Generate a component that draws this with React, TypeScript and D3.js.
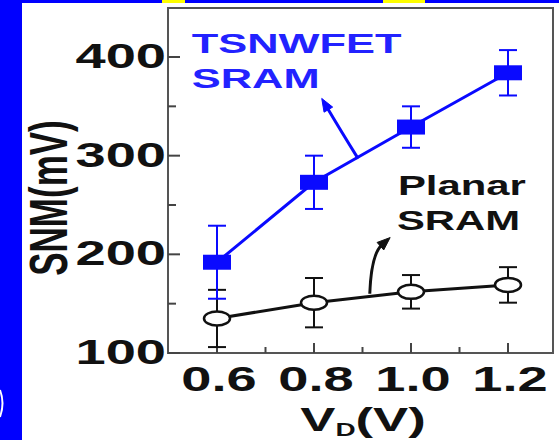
// SNM vs V_D — TSNWFET SRAM vs Planar SRAM
import React, { useEffect } from 'react';
import * as d3 from 'd3';

const voltages = [0.6, 0.8, 1.0, 1.2];
const tsnwfetSnm = [192, 273, 329, 384];
const tsnwfetErr = [37, 27, 21, 23];
const planarSnm = [135, 151, 162, 169];
const planarErr = [29, 25, 17, 18];

const yTicks = [100, 200, 300, 400];
const yMinor = [150, 250, 350];
const xTicks = [0.6, 0.8, 1.0, 1.2];
const xMinor = [0.7, 0.9, 1.1];

const W = 559;
const H = 440;
const SX = 1.55; // the figure is stretched sideways
const FONT = '"Liberation Sans", Arial, sans-serif';
const BLUE = '#0a0aff';
const INK = '#111';

const x = d3.scaleLinear().domain([0.5, 1.3]).range([168.5, 556.5]);
const y = d3.scaleLinear().domain([100, 400]).range([353, 57]);

const Txt = ({ px, py, size, anchor = 'start', fill = INK, rotate = 0, children }: any) => (
  <text
    transform={`translate(${px},${py}) scale(${SX},1)${rotate ? ` rotate(${rotate})` : ''}`}
    fontFamily={FONT}
    fontWeight="bold"
    fontSize={size}
    textAnchor={anchor}
    fill={fill}
  >
    {children}
  </text>
);

// curved annotation arrow, points given in data units
const Arrow = ({ from, ctrl, to, color }: any) => {
  const p0 = [x(from[0]), y(from[1])];
  const c = [x(ctrl[0]), y(ctrl[1])];
  const p1 = [x(to[0]), y(to[1])];
  const dx = p1[0] - c[0];
  const dy = p1[1] - c[1];
  const len = Math.hypot(dx, dy);
  const ux = dx / len, uy = dy / len;
  const hl = 13, hw = 5;
  const bx = p1[0] - ux * hl, by = p1[1] - uy * hl;
  const head = `M${p1[0]},${p1[1]}L${bx - uy * hw},${by + ux * hw}L${bx + uy * hw},${by - ux * hw}Z`;
  return (
    <g>
      <path d={`M${p0[0]},${p0[1]}Q${c[0]},${c[1]} ${bx + ux * 2},${by + uy * 2}`} fill="none" stroke={color} strokeWidth={3} />
      <path d={head} fill={color} stroke={color} strokeWidth={1} />
    </g>
  );
};

export default function App() {
  useEffect(() => {
    document.body.style.margin = '0';
  }, []);

  const line = d3.line<number>().x((_, i) => x(voltages[i])).y(d => y(d));
  const cap = 9;

  return (
    <svg width={W} height={H} style={{ display: 'block' }}>
      <rect x={0} y={0} width={W} height={H} fill="#fff" />
      {/* slide background remnants */}
      <rect x={0} y={0} width={W} height={3} fill="#0000ff" />
      <rect x={0} y={0} width={22} height={H} fill="#0000ff" />
      <rect x={162} y={0} width={23} height={3} fill="#ffff00" />
      <rect x={383} y={0} width={42} height={3} fill="#ffff00" />
      <path d="M0,390 Q5,403 0,417" fill="none" stroke="#fff" strokeWidth={2} />

      {/* frame */}
      <rect x={168} y={8} width={385} height={345} fill="none" stroke="#555" strokeWidth={2} />

      {/* ticks */}
      {yTicks.map(t => (
        <line key={'ym' + t} x1={168} x2={180} y1={y(t)} y2={y(t)} stroke="#444" strokeWidth={2} />
      ))}
      {yMinor.map(t => (
        <line key={'yn' + t} x1={168} x2={176} y1={y(t)} y2={y(t)} stroke="#444" strokeWidth={2} />
      ))}
      {xTicks.map(t => (
        <line key={'xm' + t} x1={x(t)} x2={x(t)} y1={353} y2={343} stroke="#444" strokeWidth={2} />
      ))}
      {xMinor.map(t => (
        <line key={'xn' + t} x1={x(t)} x2={x(t)} y1={353} y2={347} stroke="#444" strokeWidth={2} />
      ))}

      {/* tick labels */}
      {yTicks.map(t => (
        <Txt key={'yl' + t} px={166} py={y(t) + 11} size={35} anchor="end">{t}</Txt>
      ))}
      {xTicks.map(t => (
        <Txt key={'xl' + t} px={x(t) + 2} py={391} size={35} anchor="middle">{t.toFixed(1)}</Txt>
      ))}

      {/* axis titles */}
      <Txt px={67} py={198} size={35} anchor="middle" rotate={-90}>SNM(mV)</Txt>
      <Txt px={363} py={431} size={34} anchor="middle">
        V<tspan fontSize={18} dy={5}>D</tspan><tspan dy={-5}>(V)</tspan>
      </Txt>

      {/* planar series */}
      <path d={line(planarSnm) || ''} fill="none" stroke={INK} strokeWidth={3} />
      {planarSnm.map((v, i) => {
        const cx = x(voltages[i]);
        const t = y(v + planarErr[i]);
        const b = y(v - planarErr[i]);
        return (
          <g key={'p' + i} stroke={INK} strokeWidth={2}>
            <line x1={cx} x2={cx} y1={t} y2={b} />
            <line x1={cx - cap} x2={cx + cap} y1={t} y2={t} />
            <line x1={cx - cap} x2={cx + cap} y1={b} y2={b} />
            <ellipse cx={cx} cy={y(v)} rx={13} ry={7} fill="#fff" strokeWidth={2.5} />
          </g>
        );
      })}

      {/* TSNWFET series */}
      <path d={line(tsnwfetSnm) || ''} fill="none" stroke={BLUE} strokeWidth={3} />
      {tsnwfetSnm.map((v, i) => {
        const cx = x(voltages[i]);
        const t = y(v + tsnwfetErr[i]);
        const b = y(v - tsnwfetErr[i]);
        return (
          <g key={'t' + i} stroke={BLUE} strokeWidth={2}>
            <line x1={cx} x2={cx} y1={t} y2={b} />
            <line x1={cx - cap} x2={cx + cap} y1={t} y2={t} />
            <line x1={cx - cap} x2={cx + cap} y1={b} y2={b} />
            <rect x={cx - 14} y={y(v) - 7.5} width={28} height={15} fill={BLUE} stroke="none" />
          </g>
        );
      })}

      {/* annotations */}
      <Txt px={x(0.548)} py={y(404)} size={28} fill="#2222ff">TSNWFET</Txt>
      <Txt px={x(0.548)} py={y(368.5)} size={28} fill="#2222ff">SRAM</Txt>
      <Arrow from={[0.891, 297]} ctrl={[0.852, 328]} to={[0.816, 358]} color={BLUE} />

      <Txt px={x(0.973)} py={y(260)} size={27}>Planar</Txt>
      <Txt px={x(0.971)} py={y(224.5)} size={27}>SRAM</Txt>
      <Arrow from={[0.915, 160]} ctrl={[0.918, 200]} to={[0.957, 217]} color={INK} />
    </svg>
  );
}
